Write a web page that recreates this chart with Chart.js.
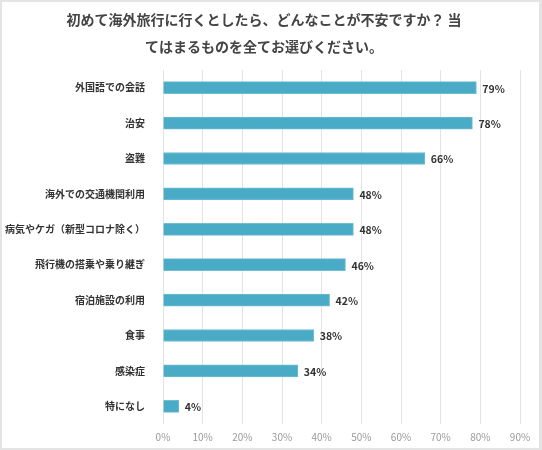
<!DOCTYPE html>
<html>
<head>
<meta charset="utf-8">
<script src="https://cdn.jsdelivr.net/npm/chart.js@4"></script>
<style>
  html, body { margin: 0; padding: 0; background: #fff; }
  #wrap { position: relative; width: 542px; height: 450px; }
  #frame {
    position: absolute; left: 0; top: 0; width: 542px; height: 450px;
    box-sizing: border-box; border: 2px solid #e4e4e4; border-right-width: 3px;
    pointer-events: none;
  }
</style>
</head>
<body>
<div id="wrap">
  <canvas id="chart" width="542" height="450"></canvas>
  <div id="frame"></div>
</div>
<script>
const titleLines = [
  "初めて海外旅行に行くとしたら、どんなことが不安ですか？ 当",
  "てはまるものを全てお選びください。"
]
const categories = [
  "外国語での会話",
  "治安",
  "盗難",
  "海外での交通機関利用",
  "病気やケガ（新型コロナ除く）",
  "飛行機の搭乗や乗り継ぎ",
  "宿泊施設の利用",
  "食事",
  "感染症",
  "特になし"
]
const values = [79, 78, 66, 48, 48, 46, 42, 38, 34, 4]
const tickStep = 10
const axisMax = 90

const FONT = "'Noto Sans CJK JP', 'Noto Sans', sans-serif"

// draws the two title lines, a bit left of centre like the original
const titlePlugin = {
  id: "titleLines",
  afterDraw(chart){
    const ctx = chart.ctx
    ctx.save()
    ctx.fillStyle = "#444"
    ctx.font = `bold 14px ${FONT}`
    ctx.textAlign = "center"
    ctx.textBaseline = "middle"
    titleLines.forEach((line, i) => ctx.fillText(line, 264, 20 + i * 27))
    ctx.restore()
  }
}

// value labels at the end of each bar
const valueLabels = {
  id: "valueLabels",
  afterDatasetsDraw(chart){
    const ctx = chart.ctx
    const meta = chart.getDatasetMeta(0)
    ctx.save()
    ctx.fillStyle = "#333"
    ctx.font = `bold 10.5px ${FONT}`
    ctx.textAlign = "left"
    ctx.textBaseline = "middle"
    meta.data.forEach((bar, i) => {
      ctx.fillText(`${values[i]}%`, bar.x + 6, bar.y + 1)
    })
    ctx.restore()
  }
}

new Chart(document.getElementById("chart"), {
  type: "bar",
  data: {
    labels: categories,
    datasets: [{
      data: values,
      backgroundColor: "#4aabc6",
      borderColor: "#6fbdd3",
      borderWidth: 1,
      barThickness: 12
    }]
  },
  options: {
    indexAxis: "y",
    responsive: false,
    animation: false,
    layout: { padding: { top: 70, left: 3, right: 22, bottom: 0 } },
    plugins: {
      legend: { display: false },
      tooltip: { enabled: false }
    },
    scales: {
      x: {
        min: 0,
        max: axisMax,
        ticks: {
          stepSize: tickStep,
          color: "#999",
          font: { family: FONT, size: 10 },
          padding: 7,
          callback: v => `${v}%`
        },
        grid: { color: "#e3e3e3", drawTicks: false },
        border: { display: false }
      },
      y: {
        ticks: {
          color: "#333",
          font: { family: FONT, size: 10, weight: "bold" },
          padding: 10
        },
        grid: { display: false },
        border: { display: false },
        afterFit(scale){ scale.width = 160 }
      }
    }
  },
  plugins: [titlePlugin, valueLabels]
})
</script>
</body>
</html>
